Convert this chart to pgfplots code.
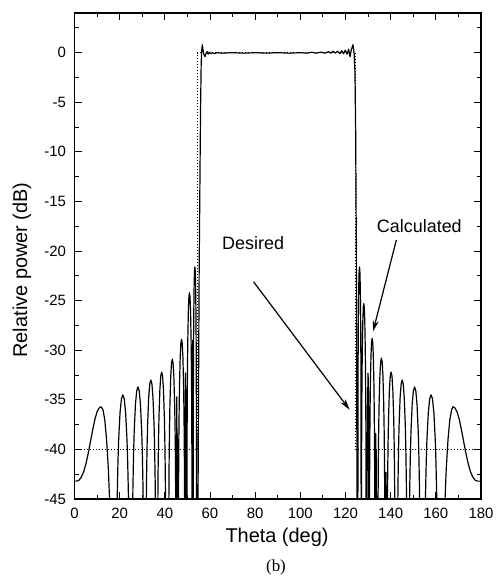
\documentclass[border=0pt]{standalone}
\usepackage{fontspec}
\setmainfont{Liberation Sans}
\newfontfamily\serifb{Liberation Serif}
\usepackage{pgfplots}
\pgfplotsset{compat=1.18}
\usetikzlibrary{arrows.meta}
\begin{document}
\begin{tikzpicture}
\begin{axis}[
  scale only axis, width=406.5bp, height=486bp,
  xmin=0, xmax=180, ymin=-45, ymax=4,
  xtick={0,20,...,180}, ytick={-45,-40,...,0},
  minor xtick={10,30,...,170}, minor ytick={-42.5,-37.5,...,2.5},
  xtick pos=both, ytick pos=both,
  xticklabel pos=lower, yticklabel pos=left,
  tick align=inside,
  major tick length=7bp, minor tick length=4bp,
  axis line style={line width=1.3bp},
  every tick/.style={line width=1bp, black},
  tick label style={font=\fontsize{15}{15}\selectfont},
  xticklabel style={yshift=-6bp},
  yticklabel style={xshift=-5bp},
  /pgf/number format/assume math mode=true,
  clip=true,
]
% Desired mask
\addplot[black, line width=1bp, dash pattern=on 1bp off 2bp] coordinates {
(0,-40)(54.4,-40)(54.4,0)(124.5,0)(124.5,-40)(180,-40)};
% Calculated
\addplot[black, line width=1.2bp, line join=round] coordinates {
(0,-43.2)(1,-43.2)(2,-43.1)(3,-42.8)(4,-42.3)(5,-41.5)(6,-40.5)(7,-39.3)(8,-38.1)(9,-37.0)(10,-36.2)(11,-35.8)(11.8,-35.7)(12.6,-36.0)(13.4,-37.0)(14.2,-39.0)(15.0,-42.0)(15.6,-45.5)(16.2,-52)(16.6,-60)
(18.3,-60)(18.61,-50.6)(18.92,-44.7)(19.23,-41.4)(19.54,-39.1)(20.16,-36.3)(20.78,-34.9)(21.4,-34.5)(22.02,-34.9)(22.64,-36.3)(23.26,-39.1)(23.57,-41.4)(23.88,-44.7)(24.19,-50.6)(24.5,-60)
(25.3,-60)(25.58,-49.8)(25.86,-43.9)(26.14,-40.6)(26.42,-38.3)(26.98,-35.5)(27.54,-34.1)(28.1,-33.7)(28.66,-34.1)(29.22,-35.5)(29.78,-38.3)(30.06,-40.6)(30.34,-43.9)(30.62,-49.8)(30.9,-60)
(31.4,-60)(31.64,-49.1)(31.88,-43.2)(32.12,-39.9)(32.36,-37.6)(32.84,-34.8)(33.32,-33.4)(33.8,-33.0)(34.28,-33.4)(34.76,-34.8)(35.24,-37.6)(35.48,-39.9)(35.72,-43.2)(35.96,-49.1)(36.2,-60)
(36.6,-60)(36.8,-48.3)(37.0,-42.4)(37.2,-39.1)(37.4,-36.8)(37.8,-34.0)(38.2,-32.6)(38.6,-32.2)(39.0,-32.6)(39.4,-34.0)(39.8,-36.8)(40.0,-39.1)(40.2,-42.4)(40.4,-48.3)(40.6,-60)
(41.55,-60)(41.73,-47.0)(41.9,-41.1)(42.08,-37.8)(42.25,-35.5)(42.6,-32.7)(42.95,-31.3)(43.3,-30.9)(43.65,-31.3)(44.0,-32.7)(44.35,-35.5)(44.53,-37.8)(44.7,-41.1)(44.88,-47.0)(45.05,-60)
(45.15,-50)(45.3,-34.7)(45.4,-42)(45.5,-38.4)(45.6,-45)(45.75,-60)
(45.9,-60)(46.05,-45.0)(46.2,-39.1)(46.35,-35.8)(46.5,-33.5)(46.8,-30.7)(47.1,-29.3)(47.4,-28.9)(47.7,-29.3)(48.0,-30.7)(48.3,-33.5)(48.45,-35.8)(48.6,-39.1)(48.75,-45.0)(48.9,-60)
(49.0,-45)(49.15,-32.3)(49.3,-36)(49.45,-45)(49.6,-60)
(49.7,-60)(49.82,-40.3)(49.94,-34.4)(50.06,-31.1)(50.18,-28.8)(50.42,-26.0)(50.66,-24.6)(50.9,-24.2)(51.14,-24.6)(51.38,-26.0)(51.62,-28.8)(51.74,-31.1)(51.86,-34.4)(51.98,-40.3)(52.1,-60)
(52.2,-42)(52.3,-29)(52.4,-42)
(52.5,-60)(52.66,-31.8)(52.82,-26.2)(52.98,-23.4)(53.14,-22.0)(53.3,-21.6)(53.46,-22.0)(53.62,-23.4)(53.78,-26.2)(53.94,-31.8)(54.1,-60)
(54.4,-60)(54.9,-35)(55.2,-22)(55.5,-14)(55.8,-6)(56.1,-1)(56.35,0.3)(56.6,0.8)(56.9,0.3)(57.3,-0.2)(57.8,-0.4)(58.2,-0.1)(58.7,0.1)(59.2,-0.15)(59.7,0.05)(60.3,-0.1)(61,0)(62,-0.1)(63,0)(65,-0.05)(70,0)(75,-0.05)(80,0)(85,-0.05)(90,0)(95,-0.05)(100,0)(103,-0.05)(105,0.05)(107,-0.05)(109,0.05)(111,-0.05)(112.5,0.1)(113.5,-0.05)(114.5,0.15)(115.5,-0.05)(116.5,0.15)(117.5,-0.1)(118.3,0.2)(119.1,-0.1)(119.9,0.25)(120.7,-0.15)(121.4,0.35)(122.0,-0.4)(122.6,0.3)(123.3,0.8)(123.8,0)(124.2,-2)(124.5,-8)(124.8,-20)(125.0,-35)(125.2,-60)
(125.4,-60)(125.56,-31.8)(125.72,-26.2)(125.88,-23.4)(126.04,-22.0)(126.2,-21.6)(126.36,-22.0)(126.52,-23.4)(126.68,-26.2)(126.84,-31.8)(127.0,-60)
(127.11,-41.4)(127.22,-35.5)(127.33,-32.2)(127.44,-29.9)(127.66,-27.1)(127.88,-25.7)(128.1,-25.3)(128.32,-25.7)(128.54,-27.1)(128.76,-29.9)(128.87,-32.2)(128.98,-35.5)(129.09,-41.4)(129.2,-60)
(129.5,-45)(129.8,-35)(130.0,-32.3)(130.2,-35)(130.4,-60)
(130.5,-60)(130.63,-44.9)(130.76,-39.0)(130.89,-35.7)(131.02,-33.4)(131.28,-30.6)(131.54,-29.2)(131.8,-28.8)(132.06,-29.2)(132.32,-30.6)(132.58,-33.4)(132.71,-35.7)(132.84,-39.0)(132.97,-44.9)(133.1,-60)
(133.2,-45)(133.35,-38.4)(133.5,-42)(133.65,-40)(133.8,-60)
(134.2,-60)(134.37,-46.9)(134.54,-41.0)(134.71,-37.7)(134.88,-35.4)(135.22,-32.6)(135.56,-31.2)(135.9,-30.8)(136.24,-31.2)(136.58,-32.6)(136.92,-35.4)(137.09,-37.7)(137.26,-41.0)(137.43,-46.9)(137.6,-60)
(137.75,-48)(137.95,-42.3)(138.15,-55)
(138.3,-60)(138.49,-48.3)(138.68,-42.4)(138.87,-39.1)(139.06,-36.8)(139.44,-34.0)(139.82,-32.6)(140.2,-32.2)(140.58,-32.6)(140.96,-34.0)(141.34,-36.8)(141.53,-39.1)(141.72,-42.4)(141.91,-48.3)(142.1,-60)
(142.8,-60)(143.03,-49.1)(143.26,-43.2)(143.49,-39.9)(143.72,-37.6)(144.18,-34.8)(144.64,-33.4)(145.1,-33.0)(145.56,-33.4)(146.02,-34.8)(146.48,-37.6)(146.71,-39.9)(146.94,-43.2)(147.17,-49.1)(147.4,-60)
(147.9,-60)(148.17,-49.8)(148.44,-43.9)(148.71,-40.6)(148.98,-38.3)(149.52,-35.5)(150.06,-34.1)(150.6,-33.7)(151.14,-34.1)(151.68,-35.5)(152.22,-38.3)(152.49,-40.6)(152.76,-43.9)(153.03,-49.8)(153.3,-60)
(154.8,-60)(155.11,-50.6)(155.42,-44.7)(155.73,-41.4)(156.04,-39.1)(156.66,-36.3)(157.28,-34.9)(157.9,-34.5)(158.52,-34.9)(159.14,-36.3)(159.76,-39.1)(160.07,-41.4)(160.38,-44.7)(160.69,-50.6)(161.0,-60)
(162.8,-60)(163.4,-52)(164.0,-45.5)(164.6,-42.0)(165.4,-39.0)(166.2,-37.0)(167.0,-36.0)(167.6,-35.7)(168.4,-35.8)(169.4,-36.2)(170.4,-37.0)(171.4,-38.1)(172.4,-39.3)(173.4,-40.5)(174.4,-41.5)(175.4,-42.3)(176.4,-42.8)(177.4,-43.1)(178.4,-43.2)(180,-43.2)
};
\node[font=\fontsize{18}{18}\selectfont] at (axis cs:79.1,-19.2) {Desired};
\node[font=\fontsize{18}{18}\selectfont] at (axis cs:152.7,-17.5) {Calculated};
\draw[-{Stealth[length=11bp,width=6bp]}, line width=1.2bp] (axis cs:79.3,-23.1) -- (axis cs:121.8,-36.0);
\draw[-{Stealth[length=11bp,width=6bp]}, line width=1.2bp] (axis cs:142.5,-18.9) -- (axis cs:132.2,-28.1);
\end{axis}
\node[rotate=90, font=\fontsize{20}{20}\selectfont] at ([shift={(-52.5bp,229bp)}]current axis.south west) {Relative power (dB)};
\node[font=\fontsize{20}{20}\selectfont] at ([shift={(202.5bp,-38bp)}]current axis.south west) {Theta (deg)};
\node[font=\serifb\fontsize{17}{17}\selectfont] at ([shift={(201.5bp,-68bp)}]current axis.south west) {(b)};
\path ([shift={(-74.5bp,-85bp)}]current axis.south west) rectangle ([shift={(419.5bp,499bp)}]current axis.south west);
\end{tikzpicture}
\end{document}
